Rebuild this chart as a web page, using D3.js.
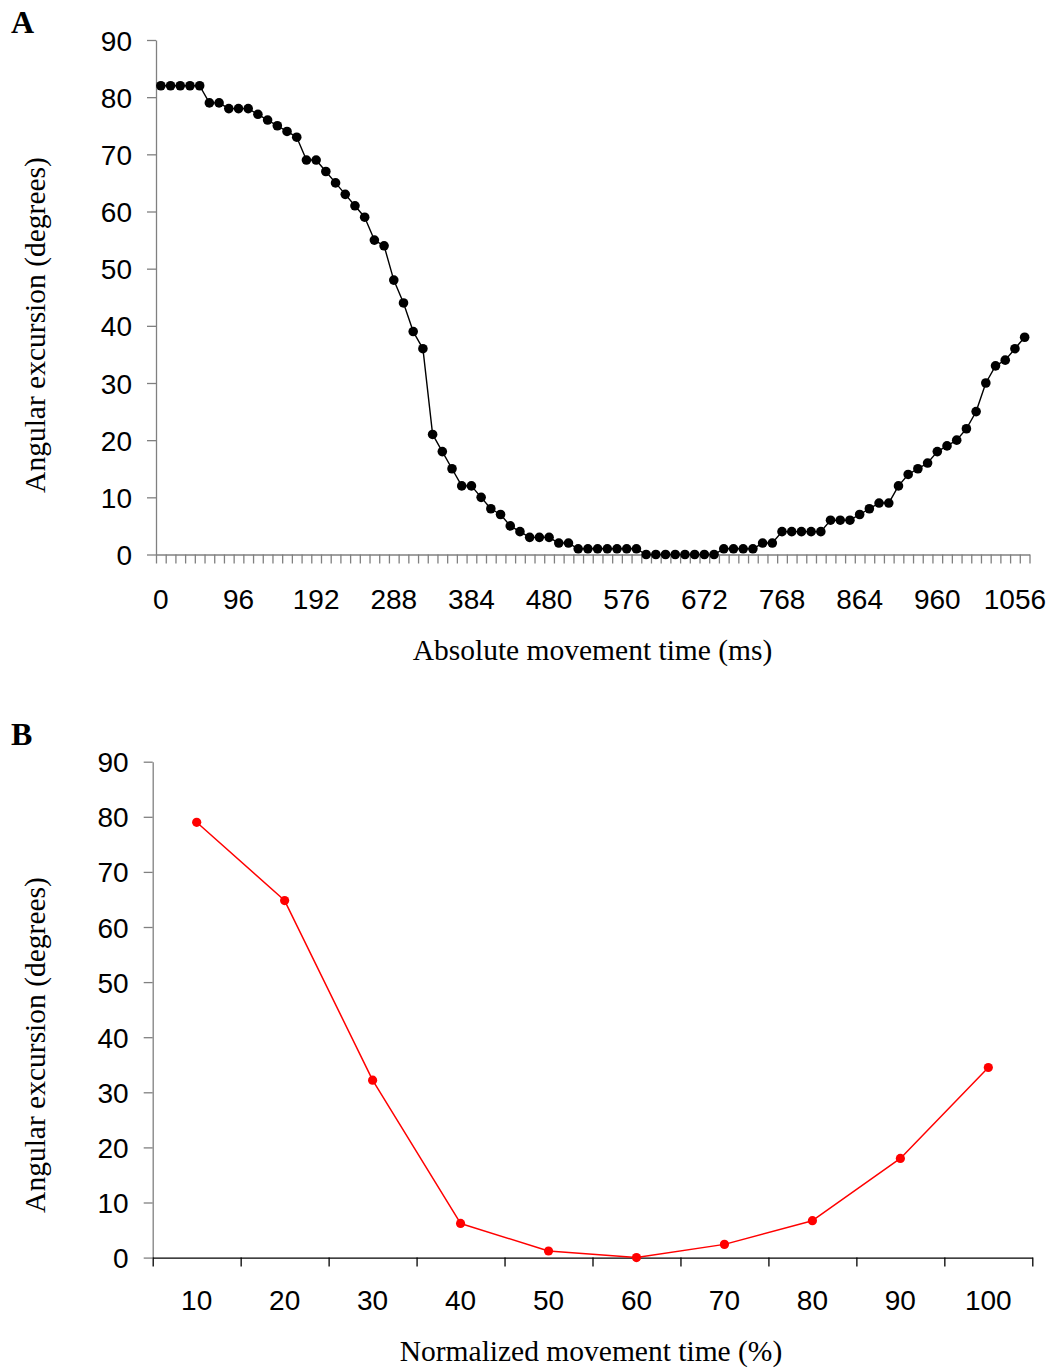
<!DOCTYPE html>
<html>
<head>
<meta charset="utf-8">
<script src="https://cdn.jsdelivr.net/npm/d3@7"></script>
<style>
  html, body { margin: 0; padding: 0; background: #fff; }
  svg { display: block; }
  .tick text { font-family: "Liberation Sans", Arial, sans-serif; font-size: 28px; fill: #000; }
  .title { font-family: "Liberation Serif", "Times New Roman", serif; font-size: 29.5px; fill: #000; }
  .panel { font-family: "Liberation Serif", "Times New Roman", serif; font-size: 32px; font-weight: bold; fill: #000; }
</style>
</head>
<body>
<script>
// Panel A: angular excursion sampled every 12 ms
const timesMs = [
  0, 12, 24, 36, 48, 60, 72, 84, 96, 108, 120, 132, 144, 156, 168, 180, 192, 204, 216, 228,
  240, 252, 264, 276, 288, 300, 312, 324, 336, 348, 360, 372, 384, 396, 408, 420, 432, 444, 456, 468,
  480, 492, 504, 516, 528, 540, 552, 564, 576, 588, 600, 612, 624, 636, 648, 660, 672, 684, 696, 708,
  720, 732, 744, 756, 768, 780, 792, 804, 816, 828, 840, 852, 864, 876, 888, 900, 912, 924, 936, 948,
  960, 972, 984, 996, 1008, 1020, 1032, 1044, 1056, 1068
];
const excursionAbs = [
  82, 82, 82, 82, 82, 79, 79, 78, 78, 78, 77, 76, 75, 74, 73, 69, 69, 67, 65, 63,
  61, 59, 55, 54, 48, 44, 39, 36, 21, 18, 15, 12, 12, 10, 8, 7, 5, 4, 3, 3,
  3, 2, 2, 1, 1, 1, 1, 1, 1, 1, 0, 0, 0, 0, 0, 0, 0, 0, 1, 1,
  1, 1, 2, 2, 4, 4, 4, 4, 4, 6, 6, 6, 7, 8, 9, 9, 12, 14, 15, 16,
  18, 19, 20, 22, 25, 30, 33, 34, 36, 38
];
const timeTickLabels = [0, 96, 192, 288, 384, 480, 576, 672, 768, 864, 960, 1056];

// Panel B: angular excursion at normalized movement time
const normPct = [10, 20, 30, 40, 50, 60, 70, 80, 90, 100];
const excursionNorm = [79.0, 64.8, 32.2, 6.2, 1.2, 0, 2.4, 6.7, 18.0, 34.5];

const degreeTicks = [0, 10, 20, 30, 40, 50, 60, 70, 80, 90];

const svg = d3.select("body").append("svg")
  .attr("width", 1053).attr("height", 1368);

function drawPanel(opt) {
  const g = svg.append("g");
  const n = opt.cats.length;
  const x = d3.scaleBand().domain(opt.cats).range([opt.x0, opt.x1]).padding(0);
  const xEdges = d3.scaleLinear().domain([0, n]).range([opt.x0, opt.x1]);
  const y = d3.scaleLinear().domain([0, 90]).range([opt.y1, opt.y0]);

  // y axis
  const ya = g.append("g").attr("transform", `translate(${opt.x0},0)`)
    .call(d3.axisLeft(y).tickValues(degreeTicks).tickSize(9).tickPadding(15).tickSizeOuter(0));
  ya.select(".domain").attr("stroke", opt.yAxisColor).attr("stroke-width", 1.3);
  ya.selectAll(".tick line").attr("stroke", opt.yAxisColor).attr("stroke-width", 1.3);
  ya.selectAll(".tick text").attr("dy", "0.36em");

  // x axis tick marks between categories
  const xt = g.append("g").attr("transform", `translate(0,${opt.y1})`)
    .call(d3.axisBottom(xEdges).tickValues(d3.range(n + 1)).tickSize(opt.xTickLen)
      .tickFormat("").tickSizeOuter(0));
  xt.select(".domain").attr("stroke", opt.xAxisColor).attr("stroke-width", 1.3);
  xt.selectAll(".tick line").attr("stroke", opt.xAxisColor).attr("stroke-width", 1.3);

  // x axis labels centred on categories
  const xl = g.append("g").attr("transform", `translate(0,${opt.y1})`)
    .call(d3.axisBottom(x).tickValues(opt.labelCats).tickSize(0).tickPadding(0));
  xl.select(".domain").remove();
  xl.selectAll(".tick text").attr("y", opt.labelOffset).attr("dy", "0.36em");

  // series
  const pts = opt.cats.map((c, i) => [x(c) + x.bandwidth() / 2, y(opt.values[i])]);
  g.append("path").datum(pts)
    .attr("fill", "none").attr("stroke", opt.color).attr("stroke-width", opt.lineWidth)
    .attr("stroke-linejoin", "round")
    .attr("d", d3.line());
  g.selectAll("circle.pt").data(pts).enter().append("circle")
    .attr("class", "pt")
    .attr("cx", d => d[0]).attr("cy", d => d[1]).attr("r", opt.r)
    .attr("fill", opt.color);

  // titles
  g.append("text").attr("class", "title")
    .attr("text-anchor", "middle")
    .attr("x", opt.xTitleX).attr("y", opt.xTitleY)
    .text(opt.xTitle);
  g.append("text").attr("class", "title")
    .attr("text-anchor", "middle")
    .attr("transform", `translate(${opt.yTitleX},${opt.yTitleY}) rotate(-90)`)
    .text(opt.yTitle);
  g.append("text").attr("class", "panel")
    .attr("x", 11).attr("y", opt.panelY)
    .text(opt.panel);
}

drawPanel({
  panel: "A", panelY: 33,
  cats: timesMs.map(String), values: excursionAbs,
  labelCats: timeTickLabels.map(String),
  x0: 156, x1: 1029.5, y0: 40, y1: 554.5,
  xTickLen: 9, labelOffset: 44,
  yAxisColor: "#808080", xAxisColor: "#808080",
  color: "#000", lineWidth: 1.4, r: 4.8,
  xTitle: "Absolute movement time (ms)", xTitleX: 592.5, xTitleY: 660,
  yTitle: "Angular excursion (degrees)", yTitleX: 45, yTitleY: 325
});

drawPanel({
  panel: "B", panelY: 745,
  cats: normPct.map(String), values: excursionNorm,
  labelCats: normPct.map(String),
  x0: 152.7, x1: 1032.3, y0: 761.7, y1: 1257.6,
  xTickLen: 9, labelOffset: 42,
  yAxisColor: "#808080", xAxisColor: "#000",
  color: "#ff0000", lineWidth: 1.5, r: 4.6,
  xTitle: "Normalized movement time (%)", xTitleX: 591, xTitleY: 1361,
  yTitle: "Angular excursion (degrees)", yTitleX: 45, yTitleY: 1045
});
</script>
</body>
</html>
